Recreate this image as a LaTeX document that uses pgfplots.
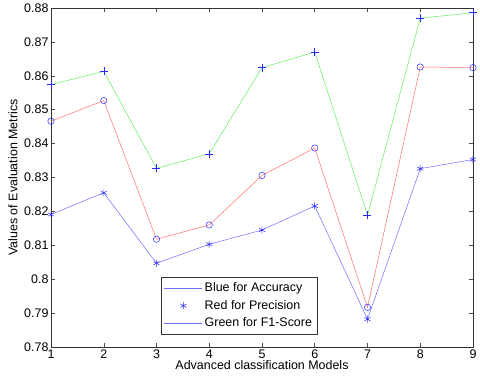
\documentclass[border=0pt]{standalone}
\usepackage{fontspec}
\setmainfont{Liberation Sans}
\usepackage{pgfplots}
\pgfplotsset{compat=1.18}
\definecolor{lblue}{RGB}{110,110,255}
\definecolor{lred}{RGB}{255,110,110}
\definecolor{lgreen}{RGB}{100,235,100}
\definecolor{mblue}{RGB}{40,40,255}
\makeatletter
\def\strokelblue{\pgfsys@color@rgb@stroke{0.431}{0.431}{1}}
\def\strokemblue{\pgfsys@color@rgb@stroke{0.157}{0.157}{1}}
\makeatother
\pgfdeclareplotmark{bplus}{\strokemblue
  \pgfpathmoveto{\pgfqpoint{-\pgfplotmarksize}{0pt}}\pgfpathlineto{\pgfqpoint{\pgfplotmarksize}{0pt}}%
  \pgfpathmoveto{\pgfqpoint{0pt}{-\pgfplotmarksize}}\pgfpathlineto{\pgfqpoint{0pt}{\pgfplotmarksize}}%
  \pgfusepathqstroke}
\pgfdeclareplotmark{bcirc}{\strokemblue
  \pgfpathcircle{\pgfpointorigin}{\pgfplotmarksize}\pgfusepathqstroke}
\pgfdeclareplotmark{bast}{\strokemblue
  \pgfpathmoveto{\pgfqpoint{0pt}{-\pgfplotmarksize}}\pgfpathlineto{\pgfqpoint{0pt}{\pgfplotmarksize}}%
  \pgfpathmoveto{\pgfqpointpolar{30}{-\pgfplotmarksize}}\pgfpathlineto{\pgfqpointpolar{30}{\pgfplotmarksize}}%
  \pgfpathmoveto{\pgfqpointpolar{-30}{-\pgfplotmarksize}}\pgfpathlineto{\pgfqpointpolar{-30}{\pgfplotmarksize}}%
  \pgfusepathqstroke}
\begin{document}
\begin{tikzpicture}
\begin{axis}[
  scale only axis,
  width=422bp, height=339bp,
  xmin=1, xmax=9, ymin=0.78, ymax=0.88,
  xtick={1,...,9},
  ytick={0.78,0.79,...,0.88},
  yticklabel style={/pgf/number format/fixed,/pgf/number format/precision=2},
  /pgf/number format/assume math mode=true,
  tick align=inside,
  major tick length=4bp,
  tick style={black!70, line width=0.5pt},
  axis line style={black!80, line width=0.5pt},
  ticklabel style={font=\fontsize{12.5}{14}\selectfont},
  xticklabel style={yshift=1bp},
  yticklabel style={xshift=1bp},
  label style={font=\fontsize{12.5}{14}\selectfont},
  xlabel={Advanced classification Models},
  ylabel={Values of Evaluation Metrics},
  xlabel style={yshift=5bp},
  ylabel style={yshift=0bp},
  legend style={at={(0.2605,0.038)}, anchor=south west, draw=black!80, font=\fontsize{12.5}{14}\selectfont, inner xsep=3bp, inner ysep=3.5bp, row sep=3bp},
  legend cell align=left,
]
% lines
\addplot[draw=lgreen, line width=0.5pt, no marks, forget plot] coordinates {
 (1,0.8574) (2,0.8613) (3,0.8327) (4,0.8370) (5,0.8624) (6,0.8670) (7,0.8189) (8,0.8770) (9,0.8786)};
\addplot[draw=lred, line width=0.5pt, no marks, forget plot] coordinates {
 (1,0.8466) (2,0.8527) (3,0.8118) (4,0.8160) (5,0.8306) (6,0.8387) (7,0.7917) (8,0.8626) (9,0.8624)};
\addplot[draw=lblue, line width=0.5pt, no marks, forget plot] coordinates {
 (1,0.8191) (2,0.8255) (3,0.8047) (4,0.8103) (5,0.8145) (6,0.8216) (7,0.7882) (8,0.8326) (9,0.8353)};
% marks
\addplot[draw=mblue, only marks, mark=bplus, mark size=4bp, line width=0.5pt, forget plot] coordinates {
 (1,0.8574) (2,0.8613) (3,0.8327) (4,0.8370) (5,0.8624) (6,0.8670) (7,0.8189) (8,0.8770) (9,0.8786)};
\addplot[draw=mblue, only marks, mark=bcirc, mark size=3.2bp, line width=0.5pt, forget plot] coordinates {
 (1,0.8466) (2,0.8527) (3,0.8118) (4,0.8160) (5,0.8306) (6,0.8387) (7,0.7917) (8,0.8626) (9,0.8624)};
\addplot[draw=mblue, only marks, mark=bast, mark size=3.5bp, line width=0.5pt, forget plot] coordinates {
 (1,0.8191) (2,0.8255) (3,0.8047) (4,0.8103) (5,0.8145) (6,0.8216) (7,0.7882) (8,0.8326) (9,0.8353)};
\addlegendimage{legend image code/.code={\pgfsetlinewidth{0.6pt}\strokelblue\pgfpathmoveto{\pgfqpoint{0bp}{0bp}}\pgfpathlineto{\pgfqpoint{38bp}{0bp}}\pgfusepath{stroke}}}
\addlegendentry{Blue for Accuracy}
\addlegendimage{legend image code/.code={\pgfsetlinewidth{0.5pt}\pgfsetplotmarksize{3.5bp}\pgftransformshift{\pgfqpoint{19bp}{0bp}}\pgfuseplotmark{bast}}}
\addlegendentry{Red for Precision}
\addlegendimage{legend image code/.code={\pgfsetlinewidth{0.6pt}\strokelblue\pgfpathmoveto{\pgfqpoint{0bp}{0bp}}\pgfpathlineto{\pgfqpoint{38bp}{0bp}}\pgfusepath{stroke}}}
\addlegendentry{Green for F1-Score}
\end{axis}
\pgfresetboundingbox
\path (current axis.south west) ++(-51bp,-38bp) rectangle ++(480bp,385bp);
\end{tikzpicture}
\end{document}
